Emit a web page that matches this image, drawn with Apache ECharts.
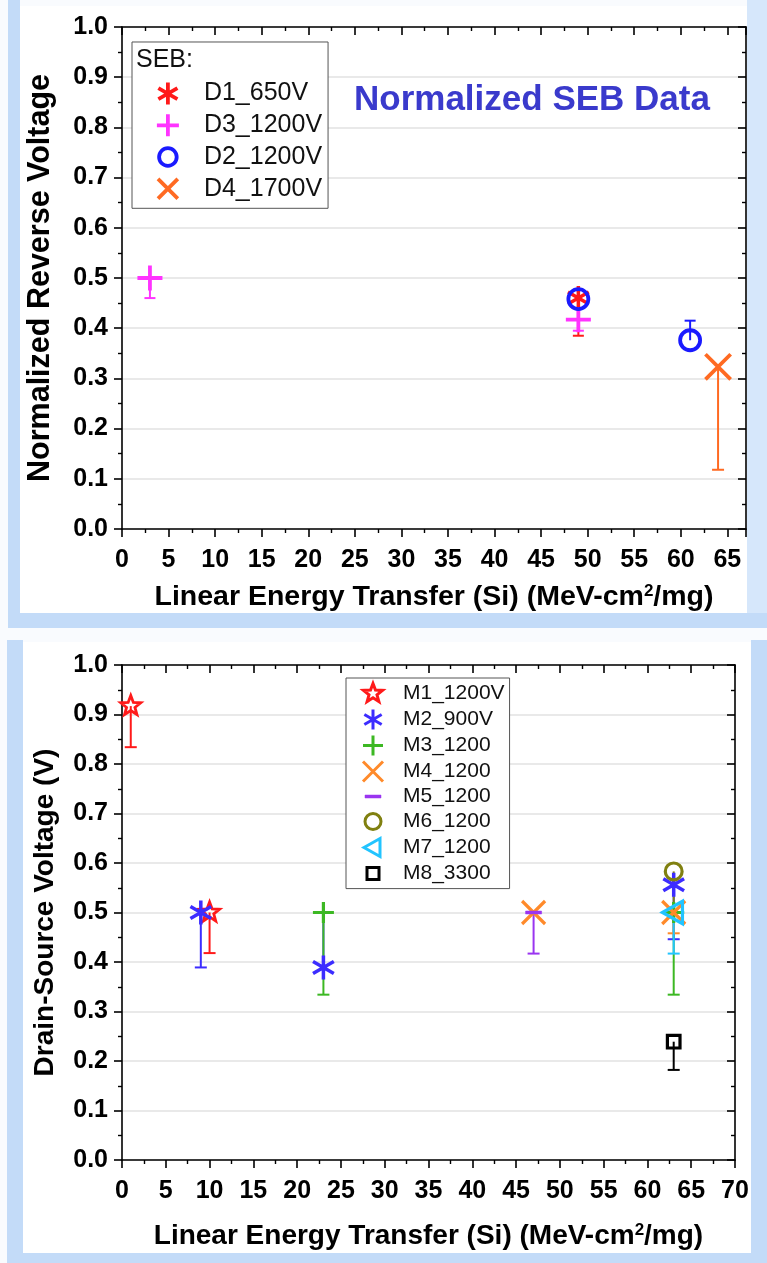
<!DOCTYPE html>
<html>
<head>
<meta charset="utf-8">
<script src="https://cdn.jsdelivr.net/npm/echarts@6/dist/echarts.min.js"></script>
<style>
html,body{margin:0;padding:0;background:#f9fbfe;}
#c{width:767px;height:1263px;}
</style>
</head>
<body>
<div id="c"></div>
<script>
// ---------- Data (top chart: SEB) ----------
const d1X = [49];        const d1Y = [0.46];          const d1Err = [0.385];
const d3X = [3, 49];     const d3Y = [0.50, 0.417];   const d3Err = [0.46, 0.395];
const d2X = [49, 61];    const d2Y = [0.458, 0.376];  const d2Err = [0.417, 0.415];
const d4X = [64];        const d4Y = [0.323];         const d4Err = [0.118];
const topNames = ['D1_650V', 'D3_1200V', 'D2_1200V', 'D4_1700V'];

// ---------- Data (bottom chart) ----------
const m1X = [1, 10];        const m1Y = [0.917, 0.50];        const m1Err = [0.834, 0.418];
const m2X = [9, 23, 63];    const m2Y = [0.50, 0.389, 0.556]; const m2Err = [0.389, 0.50, 0.446];
const m3X = [23, 63];       const m3Y = [0.50, 0.50];         const m3Err = [0.334, 0.334];
const m4X = [47, 63];       const m4Y = [0.50, 0.50];         const m4Err = [null, 0.458];
const m5X = [47];           const m5Y = [0.50];               const m5Err = [0.417];
const m6X = [63];           const m6Y = [0.583];              const m6Err = [0.50];
const m7X = [63];           const m7Y = [0.50];               const m7Err = [0.417];
const m8X = [63];           const m8Y = [0.239];              const m8Err = [0.182];
const botNames = ['M1_1200V', 'M2_900V', 'M3_1200', 'M4_1200', 'M5_1200', 'M6_1200', 'M7_1200', 'M8_3300'];

const topXTicks = {min: 0, max: 67, interval: 5};
const botXTicks = {min: 0, max: 70, interval: 5};
const yTicks = {min: 0, max: 1, interval: 0.1};

// ---------- Symbols ----------
const BOX = 'M-10,-10L-10,-10M10,10L10,10';
const SYM = {
  asterisk: 'path://M0,-10L0,10M-8.66,-5L8.66,5M-8.66,5L8.66,-5' + BOX,
  plus: 'path://M0,-10L0,10M-10,0L10,0' + BOX,
  cross: 'path://M-9,-9L9,9M-9,9L9,-9' + BOX,
  cross10: 'path://M-10,-10L10,10M-10,10L10,-10' + BOX,
  circle: 'path://M-8,0A8,8 0 1,1 8,0A8,8 0 1,1 -8,0Z' + BOX,
  star: 'path://M0,-10L2.47,-3.4L9.51,-3.09L3.99,1.3L5.88,8.09L0,4.2L-5.88,8.09L-3.99,1.3L-9.51,-3.09L-2.47,-3.4Z' + BOX,
  triLeft: 'path://M-9,0L7,-9L7,9Z' + BOX,
  square: 'path://M-6,-6L6,-6L6,6L-6,6Z' + BOX,
  dash: 'path://M-8,-1.5L8,-1.5L8,1.5L-8,1.5Z' + BOX
};

const FONT = 'Liberation Sans, Arial, sans-serif';

function zip(xs, ys, es) { return xs.map((x, i) => [x, ys[i], es[i]]); }

function markerSeries(name, xs, ys, gi, sym, size, color, lw, filled) {
  return {
    type: 'scatter', name: name, xAxisIndex: gi * 2, yAxisIndex: gi * 2,
    data: xs.map((x, i) => [x, ys[i]]),
    symbol: sym, symbolSize: size, symbolKeepAspect: true,
    itemStyle: {color: filled ? color : 'rgba(0,0,0,0)', borderColor: color, borderWidth: lw, opacity: 1},
    emphasis: {disabled: true}, silent: true, z: 5
  };
}

function errSeries(name, xs, ys, es, gi, color, lw, cap) {
  return {
    type: 'custom', name: name + ' err', xAxisIndex: gi * 2, yAxisIndex: gi * 2,
    data: zip(xs, ys, es).filter(d => d[2] !== null && d[2] !== undefined),
    silent: true, z: 3,
    renderItem: function (params, api) {
      const p0 = api.coord([api.value(0), api.value(1)]);
      const p1 = api.coord([api.value(0), api.value(2)]);
      return {
        type: 'group',
        children: [
          {type: 'line', shape: {x1: p0[0], y1: p0[1], x2: p1[0], y2: p1[1]}, style: {stroke: color, lineWidth: lw}},
          {type: 'line', shape: {x1: p1[0] - cap, y1: p1[1], x2: p1[0] + cap, y2: p1[1]}, style: {stroke: color, lineWidth: lw}}
        ]
      };
    }
  };
}

function xAxes(gi, ticks, showMax, nameGap, nameSize) {
  const common = {
    type: 'value', gridIndex: gi, min: ticks.min, max: ticks.max, interval: ticks.interval,
    axisLine: {show: true, onZero: false, lineStyle: {color: '#000', width: 1.6}},
    splitLine: {show: false},
    minorTick: {show: true, splitNumber: 2, length: 4, lineStyle: {color: '#000', width: 1.4}},
    axisTick: {show: true, length: 8, lineStyle: {color: '#000', width: 1.6}}
  };
  return [
    Object.assign({}, common, {
      position: 'bottom',
      axisLabel: {show: true, fontSize: 25, fontWeight: 'bold', color: '#000', fontFamily: FONT, margin: 19, showMaxLabel: showMax},
      name: '{a|Linear Energy Transfer (Si) (MeV-cm}{s|2}{a|/mg)}',
      nameLocation: 'middle', nameGap: nameGap,
      nameTextStyle: {
        color: '#000',
        rich: {
          a: {fontSize: nameSize, fontWeight: 'bold', fontFamily: FONT, color: '#000'},
          s: {fontSize: 17, fontWeight: 'bold', fontFamily: FONT, color: '#000', verticalAlign: 'top'}
        }
      }
    }),
    Object.assign({}, common, {
      position: 'top',
      axisLabel: {show: false},
      axisTick: {show: true, inside: true, length: 8, lineStyle: {color: '#000', width: 1.6}}
    })
  ];
}

function yAxes(gi, name, nameSize, nameGap) {
  const common = {
    type: 'value', gridIndex: gi, min: yTicks.min, max: yTicks.max, interval: yTicks.interval,
    axisLine: {show: true, onZero: false, lineStyle: {color: '#000', width: 1.6}},
    minorTick: {show: true, splitNumber: 2, length: 4, lineStyle: {color: '#000', width: 1.4}},
    axisTick: {show: true, length: 8, lineStyle: {color: '#000', width: 1.6}}
  };
  return [
    Object.assign({}, common, {
      position: 'left',
      splitLine: {show: true, lineStyle: {color: '#e2e2e2', width: 1.5}},
      axisLabel: {show: true, fontSize: 25, fontWeight: 'bold', color: '#000', fontFamily: FONT, margin: 14,
        formatter: v => v.toFixed(1)},
      name: name, nameLocation: 'middle', nameGap: nameGap,
      nameTextStyle: {fontSize: nameSize, fontWeight: 'bold', fontFamily: FONT, color: '#000'}
    }),
    Object.assign({}, common, {
      position: 'right',
      splitLine: {show: false},
      axisLabel: {show: false},
      axisTick: {show: true, inside: true, length: 8, lineStyle: {color: '#000', width: 1.6}}
    })
  ];
}

const topColors = {D1: '#ff1a1a', D3: '#ff33ff', D2: '#1a1aff', D4: '#ff6a22'};
const botColors = ['#ff1a1a', '#3c2cff', '#3cb823', '#ff8a2a', '#9a35f0', '#808010', '#22c4ff', '#000000'];

const series = [
  // top errors
  errSeries('D1_650V', d1X, d1Y, d1Err, 0, topColors.D1, 2, 5.5),
  errSeries('D3_1200V', d3X, d3Y, d3Err, 0, topColors.D3, 2, 5.5),
  errSeries('D2_1200V', d2X, d2Y, d2Err, 0, topColors.D2, 2, 5.5),
  errSeries('D4_1700V', d4X, d4Y, d4Err, 0, topColors.D4, 2, 6),
  // top markers
  markerSeries('D1_650V', d1X, d1Y, 0, SYM.asterisk, 24, topColors.D1, 3.5, false),
  markerSeries('D3_1200V', d3X, d3Y, 0, SYM.plus, 25, topColors.D3, 3.8, false),
  markerSeries('D2_1200V', d2X, d2Y, 0, SYM.circle, 25, topColors.D2, 3.8, false),
  markerSeries('D4_1700V', d4X, d4Y, 0, SYM.cross, 28, topColors.D4, 3.8, false),
  // bottom errors
  errSeries('M1_1200V', m1X, m1Y, m1Err, 1, botColors[0], 2, 6),
  errSeries('M2_900V', m2X, m2Y, m2Err, 1, botColors[1], 2, 6),
  errSeries('M3_1200', m3X, m3Y, m3Err, 1, botColors[2], 2, 6),
  errSeries('M4_1200', m4X, m4Y, m4Err, 1, botColors[3], 2, 6),
  errSeries('M5_1200', m5X, m5Y, m5Err, 1, botColors[4], 2, 6),
  errSeries('M7_1200', m7X, m7Y, m7Err, 1, botColors[6], 2, 6),
  errSeries('M6_1200', m6X, m6Y, m6Err, 1, botColors[5], 2, 6),
  errSeries('M8_3300', m8X, m8Y, m8Err, 1, botColors[7], 2, 6),
  // bottom markers
  markerSeries('M1_1200V', m1X, m1Y, 1, SYM.star, 21, botColors[0], 2.8, false),
  markerSeries('M2_900V', m2X, m2Y, 1, SYM.asterisk, 24, botColors[1], 3.5, false),
  markerSeries('M3_1200', m3X, m3Y, 1, SYM.plus, 21, botColors[2], 3.2, false),
  markerSeries('M4_1200', m4X, m4Y, 1, SYM.cross10, 23, botColors[3], 3.2, false),
  markerSeries('M5_1200', m5X, m5Y, 1, SYM.dash, 20, botColors[4], 0.5, true),
  markerSeries('M7_1200', m7X, m7Y, 1, SYM.triLeft, 25, botColors[6], 3.2, false),
  markerSeries('M6_1200', m6X, m6Y, 1, SYM.circle, 21, botColors[5], 3.2, false),
  markerSeries('M8_3300', m8X, m8Y, 1, SYM.square, 21, botColors[7], 3.2, false)
];

const option = {
  backgroundColor: '#f9fbfe',
  animation: false,
  graphic: [
    {type: 'rect', z: -100, silent: true, shape: {x: 20, y: 6, width: 727, height: 607}, style: {fill: '#ffffff'}},
    {type: 'rect', z: -100, silent: true, shape: {x: 8, y: 0, width: 12, height: 628}, style: {fill: '#c3dbf8'}},
    {type: 'rect', z: -100, silent: true, shape: {x: 8, y: 613, width: 759, height: 15}, style: {fill: '#c3dbf8'}},
    {type: 'rect', z: -100, silent: true, shape: {x: 747, y: 0, width: 20, height: 613}, style: {fill: '#d6e7fb'}},
    {type: 'rect', z: -100, silent: true, shape: {x: 23, y: 642, width: 728, height: 611}, style: {fill: '#ffffff'}},
    {type: 'rect', z: -100, silent: true, shape: {x: 7, y: 640, width: 16, height: 623}, style: {fill: '#c3dbf8'}},
    {type: 'rect', z: -100, silent: true, shape: {x: 7, y: 1253, width: 760, height: 10}, style: {fill: '#c3dbf8'}},
    {type: 'rect', z: -100, silent: true, shape: {x: 751, y: 640, width: 16, height: 613}, style: {fill: '#c3dbf8'}},
    {type: 'text', z: 100, silent: true, left: 136, top: 48,
      style: {text: 'SEB:', fontSize: 25, fontFamily: FONT, fill: '#111'}}
  ],
  title: {
    text: 'Normalized SEB Data', left: 349, top: 78,
    textStyle: {fontSize: 35, fontWeight: 'bold', fontFamily: FONT, color: '#3a3acc'}
  },
  legend: [
    {
      data: topNames, orient: 'vertical', left: 132, top: 42,
      padding: [38.7, 6, 6.7, 23], itemGap: 5.9, itemWidth: 22, itemHeight: 22,
      backgroundColor: '#ffffff', borderColor: '#555', borderWidth: 1, borderRadius: 0,
      selectedMode: false, symbolKeepAspect: true,
      itemStyle: {borderWidth: 3.8},
      textStyle: {fontSize: 25, fontFamily: FONT, color: '#111', padding: [0, 0, 0, 20]}
    },
    {
      data: botNames.map(n => n === 'M5_1200' ? {name: n, itemStyle: {borderWidth: 0.5}} : {name: n}),
      orient: 'vertical', left: 346, top: 678,
      padding: [4, 5, 3.6, 15.5], itemGap: 3, itemWidth: 20, itemHeight: 20,
      backgroundColor: '#ffffff', borderColor: '#555', borderWidth: 1, borderRadius: 0,
      selectedMode: false, symbolKeepAspect: true,
      itemStyle: {borderWidth: 3},
      textStyle: {fontSize: 21, fontFamily: FONT, color: '#111', padding: [0, 0, 0, 15]}
    }
  ],
  grid: [
    {left: 122, top: 27, width: 624, height: 502},
    {left: 122, top: 665, width: 613, height: 495}
  ],
  xAxis: [].concat(xAxes(0, topXTicks, false, 54, 28.5), xAxes(1, botXTicks, true, 62, 28)),
  yAxis: [].concat(yAxes(0, 'Normalized Reverse Voltage', 30.5, 66), yAxes(1, 'Drain-Source Voltage (V)', 28, 63)),
  series: series
};

const chart = echarts.init(document.getElementById('c'), null, {renderer: 'canvas'});
chart.setOption(option);
</script>
</body>
</html>
